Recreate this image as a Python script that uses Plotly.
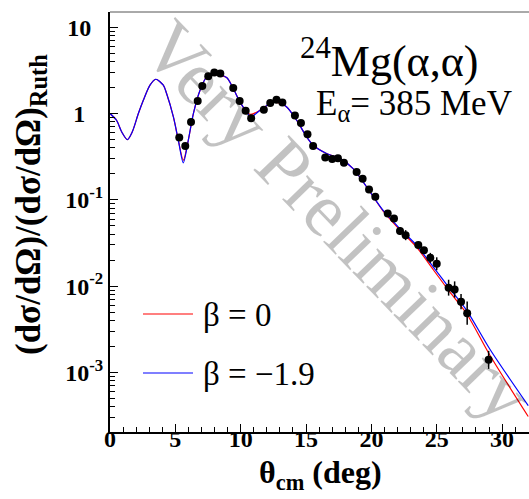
import plotly.graph_objects as go

# ---- data ----
theta_data = [5.30, 5.76, 6.20, 6.71, 7.06, 7.52, 7.98, 8.44, 9.43, 9.92, 10.38, 10.80,
              11.77, 12.26, 12.74, 13.19, 14.15, 14.61, 15.11, 15.54, 16.47, 17.00, 17.44,
              17.90, 18.87, 19.33, 19.82, 20.30, 21.25, 21.73, 22.19, 22.62, 23.59, 24.02,
              24.51, 25.00, 25.91, 26.37, 26.86, 27.33, 28.97]
ratio_data = [0.527, 0.42, 0.80, 1.40, 2.09, 2.71, 2.99, 2.91, 1.98, 1.40, 1.08, 0.88,
              1.11, 1.33, 1.45, 1.34, 0.95, 0.78, 0.575, 0.42, 0.31, 0.298, 0.303,
              0.27, 0.21, 0.176, 0.132, 0.109, 0.0697, 0.061, 0.0435, 0.039, 0.0299, 0.026,
              0.0213, 0.0182, 0.00957, 0.00916, 0.00659, 0.00486, 0.0014]
err_up = [0]*30 + [0.0049, 0.0056, 0.0025, 0.0022, 0.0030, 0.0034, 0.0023, 0.0022,
                   0.0015, 0.0018, 0.00038]
err_down = [0]*30 + [0.0044, 0.0049, 0.0023, 0.0020, 0.0027, 0.0029, 0.0018, 0.0018,
                     0.0012, 0.0013, 0.0003]

theta_calc = [0.0, 0.5, 0.9, 1.33, 1.7, 2.17, 2.55, 3.06, 3.5, 4.08, 4.33, 4.85, 5.23,
              5.61, 5.99, 6.38, 6.89, 7.4, 7.98, 8.92, 9.43, 9.94, 10.45, 10.76, 11.48,
              12.24, 12.68, 13.52, 14.28, 15.05, 15.55, 16.57, 17.6, 18.6, 19.64, 20.9,
              22.19, 23.47, 24.74, 26.01, 27.29, 29.07, 32.0]
ratio_beta0 = [1.0, 0.836, 0.612, 0.499, 0.612, 1.0, 1.426, 2.14, 2.50, 2.13, 1.706, 0.914,
               0.49, 0.288, 0.49, 1.0, 1.862, 2.66, 2.82, 2.62, 1.95, 1.365, 1.045, 0.977,
               1.091, 1.306, 1.36, 1.194, 0.836, 0.536, 0.429, 0.344, 0.301, 0.230, 0.141,
               0.0741, 0.0447, 0.0282, 0.0155, 0.00851, 0.00479, 0.00158, 0.000309]
ratio_beta19 = [1.0, 0.836, 0.612, 0.499, 0.612, 1.0, 1.426, 2.14, 2.50, 2.13, 1.706, 0.914,
                0.49, 0.269, 0.49, 1.0, 1.862, 2.66, 2.91, 2.62, 1.95, 1.365, 1.045, 0.914,
                1.091, 1.306, 1.39, 1.194, 0.836, 0.536, 0.429, 0.344, 0.301, 0.230, 0.141,
                0.0755, 0.0463, 0.0296, 0.0166, 0.00933, 0.00525, 0.00186, 0.000413]

series_names = ["β = 0", "β = −1.9"]
series_colors = ["#ff0000", "#0000ff"]

NB = "\u00a0"
y_tickvals = [1e-3, 1e-2, 1e-1, 1, 10]
y_ticktext = ["<b>10<sup>-3</sup></b>", "<b>10<sup>-2</sup></b>", "<b>10<sup>-1</sup></b>",
              "<b>1" + NB * 3 + "</b>", "<b>10" + NB * 2 + "</b>"]
x_tickvals = [0, 5, 10, 15, 20, 25, 30]
x_ticktext = ["<b>0</b>", "<b>5</b>", "<b>10</b>", "<b>15</b>", "<b>20</b>", "<b>25</b>", "<b>30</b>"]

SERIF = "Liberation Serif"

fig = go.Figure()
for yv, nm, col in zip([ratio_beta0, ratio_beta19], series_names, series_colors):
    fig.add_trace(go.Scatter(x=theta_calc, y=yv, mode="lines", name=nm, showlegend=False,
                             line=dict(color=col, width=1.2, shape="spline", smoothing=0.8)))
fig.add_trace(go.Scatter(x=theta_data, y=ratio_data, mode="markers", showlegend=False,
                         marker=dict(color="black", size=8),
                         error_y=dict(type="data", array=err_up, arrayminus=err_down,
                                      color="black", thickness=1.5, width=0)))

# legend drawn as paper-positioned line samples + labels
W, H, L, T, B = 529, 499, 110, 12, 67
pw, ph = W - L, H - T - B
def px(x): return (x - L) / pw
def py(y): return (H - B - y) / ph

legend_rows = [314, 373]
shapes = [dict(type="line", xref="paper", yref="paper", x0=0, x1=1, y0=1, y1=1,
               line=dict(color="#555555", width=1))]
annotations = []
for row, nm, col in zip(legend_rows, series_names, series_colors):
    shapes.append(dict(type="line", xref="paper", yref="paper", x0=px(143), x1=px(193),
                       y0=py(row), y1=py(row), line=dict(color=col, width=1.2)))
    annotations.append(dict(text=nm, xref="paper", yref="paper", x=px(201), y=py(row + 1),
                            xanchor="left", yanchor="middle", showarrow=False,
                            font=dict(family=SERIF, size=33, color="black")))

annotations += [
    dict(text="Very Preliminary", xref="paper", yref="paper", x=px(338), y=py(220),
         xanchor="center", yanchor="middle",
         showarrow=False, textangle=46, font=dict(family=SERIF, size=76, color="rgba(0,0,0,0.24)")),
    dict(text="<sup>24</sup>Mg(α,α)", xref="paper", yref="paper", x=px(389), y=py(58),
         xanchor="center", yanchor="middle",
         showarrow=False, font=dict(family=SERIF, size=44, color="black")),
    dict(text="E<sub>α</sub>= 385 MeV", xref="paper", yref="paper", x=px(414), y=py(106),
         xanchor="center", yanchor="middle",
         showarrow=False, font=dict(family=SERIF, size=35, color="black")),
    dict(text="<b>(dσ/dΩ)/(dσ/dΩ)<sub>Ruth</sub></b>", xref="paper", yref="paper", x=px(30), y=py(205),
         xanchor="center", yanchor="middle", showarrow=False, textangle=-90,
         font=dict(family=SERIF, size=35, color="black")),
    dict(text="<b>θ<sub>cm</sub> (deg)</b>", xref="paper", yref="paper", x=px(320), y=py(474),
         xanchor="center", yanchor="middle",
         showarrow=False, font=dict(family=SERIF, size=32, color="black")),
]

fig.update_layout(
    width=W, height=H,
    margin=dict(l=L, r=0, t=T, b=B),
    paper_bgcolor="white", plot_bgcolor="white",
    font=dict(family=SERIF, color="black", size=24),
    showlegend=False,
    xaxis=dict(range=[0, 32.06], tickvals=x_tickvals, ticktext=x_ticktext, ticks="inside", ticklen=8,
               tickwidth=1, tickcolor="black", showline=True, linecolor="black",
               linewidth=2, showgrid=False, zeroline=False, ticklabelstandoff=-16,
               tickfont=dict(family=SERIF, size=24, color="black"),
               minor=dict(dtick=1, ticks="inside", ticklen=5, tickcolor="black", showgrid=False)),
    yaxis=dict(type="log", range=[-3.69, 1.177], tickvals=y_tickvals, ticktext=y_ticktext,
               ticks="inside", ticklen=8, tickwidth=1, tickcolor="black", showline=True,
               linecolor="black", linewidth=2, showgrid=False, zeroline=False,
               tickfont=dict(family=SERIF, size=24, color="black"),
               minor=dict(dtick="D1", ticks="inside", ticklen=5, tickcolor="black", showgrid=False)),
    shapes=shapes,
    annotations=annotations,
)

fig.write_html("out.html")
